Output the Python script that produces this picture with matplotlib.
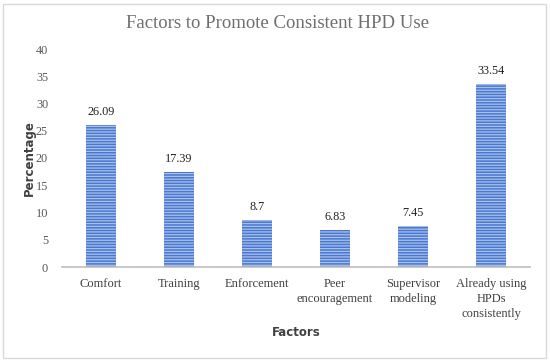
import matplotlib
matplotlib.use("Agg")
import matplotlib.pyplot as plt
from matplotlib.patches import Rectangle

categories = ["Comfort", "Training", "Enforcement", "Peer\nencouragement",
              "Supervisor\nmodeling", "Already using\nHPDs\nconsistently"]
values = [26.09, 17.39, 8.7, 6.83, 7.45, 33.54]
labels = ["26.09", "17.39", "8.7", "6.83", "7.45", "33.54"]
yticks = [0, 5, 10, 15, 20, 25, 30, 35, 40]

W, H = 550, 361
plt.rcParams['hatch.linewidth'] = 0.9
fig = plt.figure(figsize=(W/100, H/100), dpi=100)
fig.patch.set_facecolor("white")
fig.patches.append(Rectangle((3/W, 3/H), 543/W, 354/H, transform=fig.transFigure,
                             fill=False, edgecolor="#d9d9d9", linewidth=1))

x0, x1 = 62, 530
y0, y1 = 267, 49
ax = fig.add_axes([x0/W, 1 - y0/H, (x1-x0)/W, (y0-y1)/H])

xs = range(len(categories))
ax.bar(xs, values, width=0.375, color="#4a78cf", edgecolor="#a9c0ec",
       hatch="------", linewidth=0.0, zorder=2)
for x, v, l in zip(xs, values, labels):
    ax.text(x, v + 1.3, l, ha="center", va="bottom", fontsize=8.8,
            family="Liberation Serif", color="#222222")

ax.set_xlim(-0.5, len(categories) - 0.5)
ax.set_ylim(0, 40)
ax.set_yticks(yticks)
ax.set_yticklabels([str(t) for t in yticks], family="Liberation Serif",
                   fontsize=8.8, color="#595959")
ax.set_xticks(list(xs))
ax.set_xticklabels(categories, family="Liberation Serif", fontsize=9,
                   color="#404040", linespacing=1.35, va="top")
ax.tick_params(axis="both", length=0)
ax.tick_params(axis="x", pad=8)
ax.tick_params(axis="y", pad=10)
for s in ["top", "right", "left"]:
    ax.spines[s].set_visible(False)
ax.spines["bottom"].set_color("#bfbfbf")
ax.spines["bottom"].set_linewidth(1.2)

fig.text(29/W, 1 - 158/H, "Percentage", rotation=90, ha="center", va="center",
         fontsize=8.5, fontweight="bold", family="DejaVu Sans", color="#404040")
fig.text(296/W, 1 - 333/H, "Factors", ha="center", va="center",
         fontsize=8.5, fontweight="bold", family="DejaVu Sans", color="#404040")
fig.text(278/W, 1 - 24/H, "Factors to Promote Consistent HPD Use", ha="center",
         va="center", fontsize=13.5, family="Liberation Serif", color="#6e6e6e")

fig.savefig("out.png", dpi=100)
